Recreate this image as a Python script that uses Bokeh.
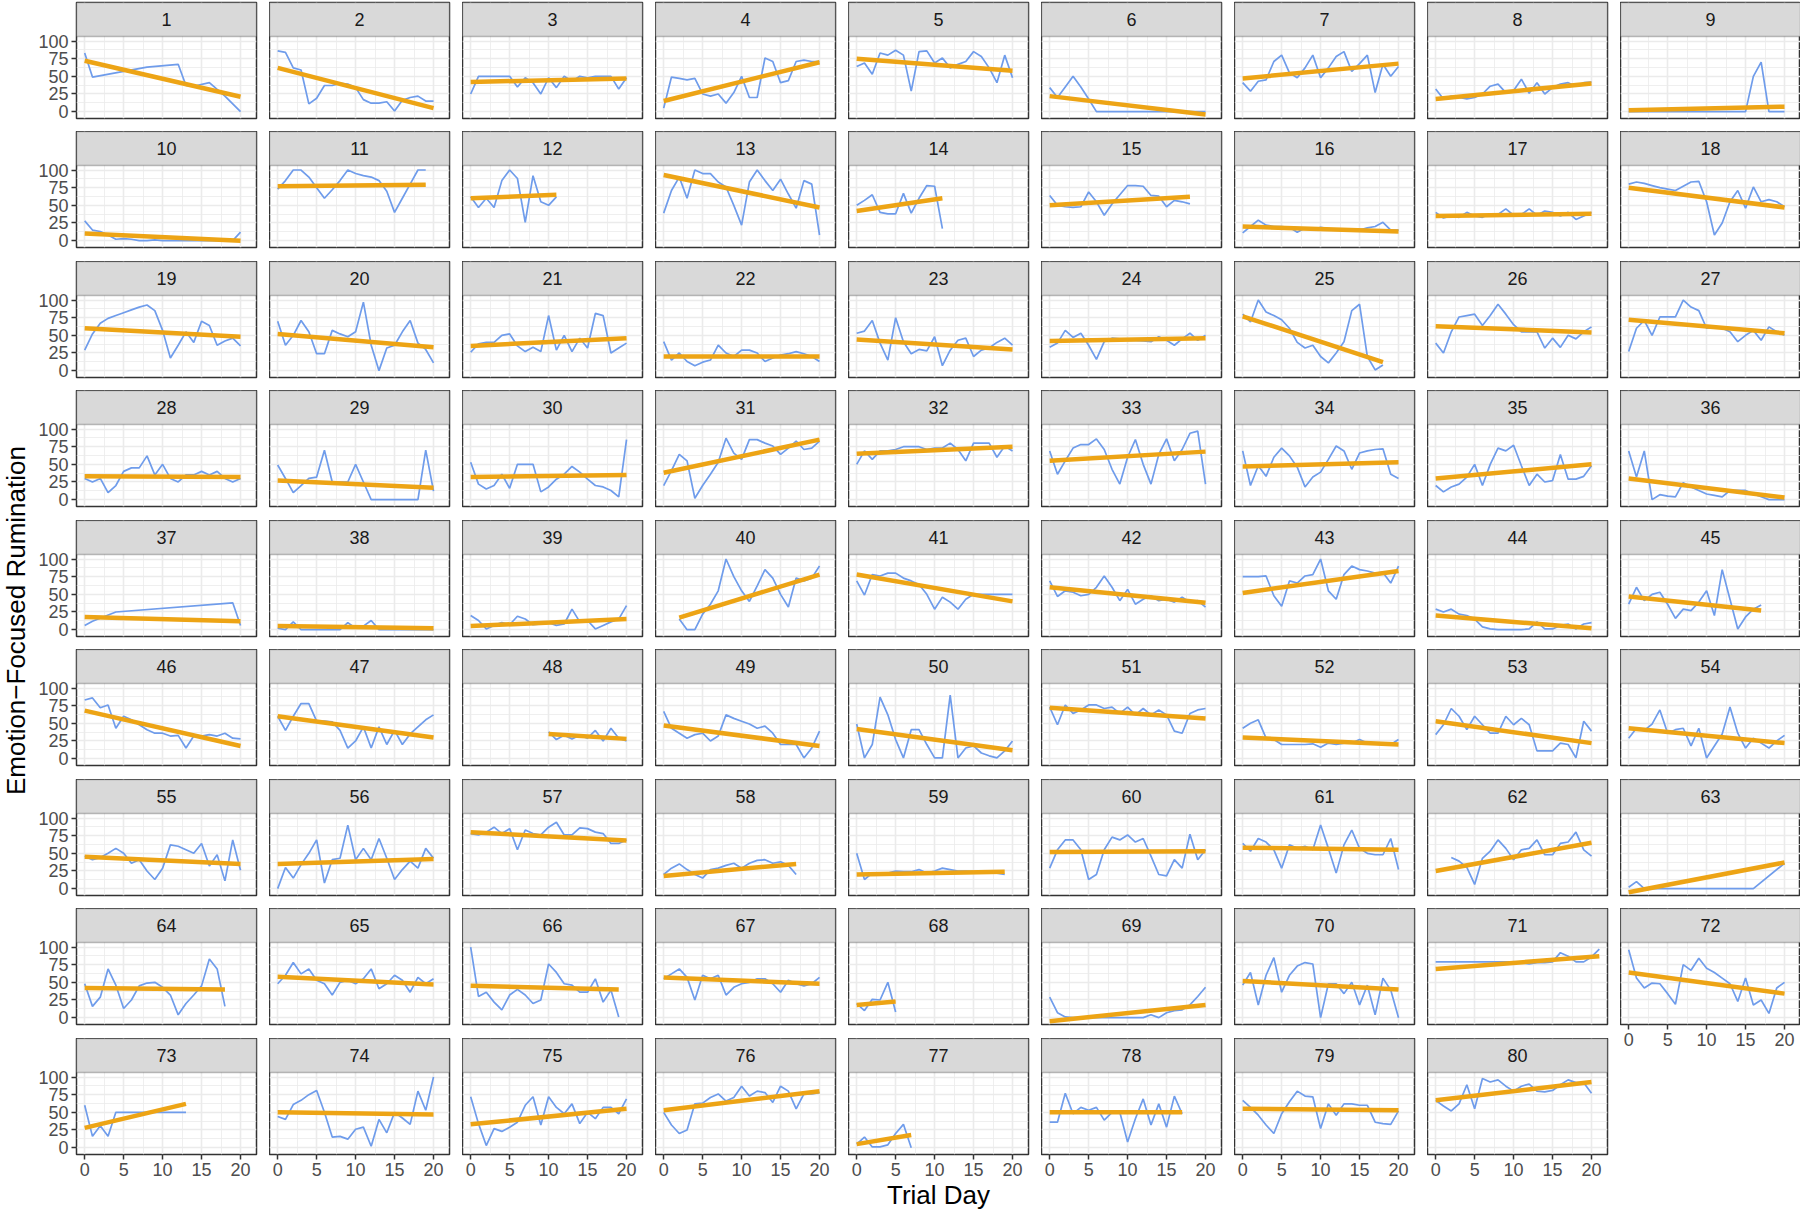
import math
from bokeh.plotting import figure
from bokeh.models import Range1d, FixedTicker, BoxAnnotation, Label, GridBox
from bokeh.embed import file_html
from bokeh.resources import INLINE

N = None
# ---- daily Emotion-Focused Rumination scores, one list per participant (index = trial day) ----
s1 = [83, 49, N, N, N, 57, N, N, 63, N, N, N, 67, 37, 36, N, 41, N, 22, N, 0]
s2 = [86, 84, 62, 59, 11, 19, 37, 37, 40, 39, 34, 17, 12, 12, 14, 1, 16, 20, 22, 15, 15]
s3 = [25, 50, 50, 50, 50, 50, 35, 48, 41, 25, 48, 34, 50, 43, 50, 48, 50, 50, 50, 32, 48]
s4 = [5, 49, 47, 45, 47, 25, 22, 25, 12, 27, 50, 20, 20, 76, 71, 41, 44, 71, 73, 71, 71]
s5 = [64, 69, 53, 83, 80, 87, 80, 29, 85, 86, 69, 76, 62, 67, 71, 85, 78, 62, 41, 80, 48]
s6 = [34, 20, 35, 50, 35, 18, 0, 0, 0, 0, 0, 0, 0, 0, 0, 0, 0, 0, 0, 0, 0]
s7 = [41, 29, 43, 45, 71, 80, 55, 48, 62, 80, 48, 62, 78, 85, 57, 68, 80, 27, 67, 50, 64]
s8 = [32, 18, 22, 20, 18, 20, 25, 36, 39, 27, 30, 46, 26, 41, 25, 34, 39, 41, 36, 41, 42]
s9 = [0, 0, 0, 0, 0, 0, 0, 0, 0, 0, 0, 0, 0, 0, 0, 0, 50, 70, 0, 0, 0]
s10 = [28, 15, 13, 8, 2, 3, 2, 0, 0, 1, 0, 0, 0, 0, 0, 0, 0, 0, 0, 0, 12]
s11 = [73, 85, 100, 100, 90, 75, 60, 72, 85, 100, 95, 92, 90, 85, 70, 40, 60, 80, 100, 100]
s12 = [62, 47, 60, 47, 85, 100, 88, 26, 92, 55, 50, 62]
s13 = [39, 71, 90, 60, 100, 95, 95, 83, 76, 50, 22, 83, 100, 85, 71, 87, 66, 46, 85, 80, 8]
s14 = [50, 57, 65, 40, 38, 38, 67, 39, 60, 78, 77, 17]
s15 = [64, 50, 48, 47, 48, 69, 55, 36, 52, 65, 78, 78, 77, 64, 63, 48, 57, 55, 52]
s16 = [11, 20, 29, 22, 20, 20, 19, 12, 18, 15, 19, 17, 16, 16, 15, 15, 18, 20, 26, 15, 15]
s17 = [40, 32, 35, 33, 40, 35, 33, 38, 37, 45, 36, 37, 45, 36, 42, 40, 35, 40, 30, 35, 40]
s18 = [80, 83, 81, 78, 75, 73, 71, 77, 83, 84, 55, 8, 25, 55, 71, 46, 76, 55, 58, 55, 48]
s19 = [29, 52, 67, 74, 78, 82, 86, 90, 93, 85, 57, 18, 36, 55, 40, 70, 64, 36, 42, 46, 35]
s20 = [70, 36, 50, 71, 55, 24, 24, 57, 52, 48, 55, 97, 36, 0, 32, 36, 55, 71, 39, 30, 11]
s21 = [26, 38, 40, 40, 50, 52, 35, 27, 33, 27, 78, 29, 50, 27, 46, 32, 81, 78, 25, 32, 39]
s22 = [41, 15, 25, 13, 7, 12, 15, 36, 25, 20, 29, 29, 25, 13, 18, 22, 24, 27, 24, 20, 13]
s23 = [53, 56, 71, 39, 15, 75, 41, 24, 30, 28, 48, 7, 29, 43, 46, 20, 29, 32, 40, 46, 36]
s24 = [33, 39, 57, 47, 53, 36, 16, 41, 46, 45, 43, 43, 42, 41, 48, 43, 36, 45, 53, 43, 50]
s25 = [80, 69, 100, 83, 78, 72, 60, 40, 32, 36, 20, 11, 25, 41, 85, 94, 20, 1, 8]
s26 = [39, 25, 55, 76, 78, 80, 64, 78, 94, 80, 65, 55, 55, 55, 32, 46, 33, 50, 45, 55, 62]
s27 = [27, 60, 71, 50, 76, 76, 76, 100, 90, 85, 60, 62, 60, 55, 41, 50, 57, 43, 62, 55, 50]
s28 = [30, 25, 30, 10, 20, 40, 45, 45, 62, 35, 50, 30, 25, 35, 35, 40, 35, 40, 30, 25, 30]
s29 = [49, 30, 10, 20, 30, 32, 70, 25, 25, 25, 50, 25, 0, 0, 0, 0, 0, 0, 0, 70, 12]
s30 = [53, 22, 15, 20, 36, 16, 50, 50, 50, 11, 18, 29, 36, 47, 39, 29, 20, 18, 13, 4, 85]
s31 = [20, 41, 64, 55, 2, 20, 36, 53, 87, 66, 57, 85, 85, 80, 76, 64, 73, 83, 71, 73, 83]
s32 = [50, 69, 57, 69, 69, 71, 75, 75, 75, 71, 73, 73, 80, 71, 55, 80, 80, 80, 60, 76, 69]
s33 = [69, 36, 55, 73, 78, 78, 86, 71, 43, 22, 60, 85, 50, 22, 64, 86, 55, 71, 94, 97, 22]
s34 = [69, 20, 48, 33, 60, 73, 62, 46, 18, 32, 39, 57, 76, 69, 43, 66, 69, 71, 72, 36, 30]
s35 = [20, 11, 18, 22, 32, 50, 20, 50, 73, 69, 77, 48, 20, 36, 25, 27, 64, 29, 29, 33, 48]
s36 = [69, 32, 69, 0, 7, 5, 4, 24, 18, 13, 8, 6, 4, 13, 13, 13, 8, 4, 0, 0, 0]
s37 = [6, 12, N, N, 25, N, N, N, N, N, N, N, N, N, N, N, N, N, N, 38, 6]
s38 = [2, 0, 11, 0, 0, 0, 0, 0, 0, 10, 2, 5, 13, 0, 0, 0, 0, 0, 0, 0, 0]
s39 = [20, 13, 1, 6, 10, 7, 19, 15, 7, 8, 10, 6, 8, 29, 11, 13, 1, 6, 11, 15, 34]
s40 = [N, N, 15, 0, 0, 22, 36, 55, 100, 75, 55, 40, 62, 85, 73, 50, 32, 73, 69, 73, 90]
s41 = [69, 49, 78, 76, 80, 80, 73, 69, 64, 50, 29, 46, 39, 29, 43, 50, 50, 50, 50, 50, 50]
s42 = [69, 47, 55, 53, 48, 50, 60, 76, 60, 41, 57, 36, 43, 48, 41, 43, 39, 46, 39, 41, 32]
s43 = [75, 75, 75, 76, 48, 33, 69, 66, 76, 78, 100, 55, 43, 78, 90, 85, 83, 80, 81, 66, 90]
s44 = [29, 25, 29, 22, 20, 15, 4, 1, 0, 0, 0, 0, 1, 11, 1, 1, 6, 8, 1, 8, 10]
s45 = [36, 60, 41, 50, 53, 36, 16, 29, 27, 39, 55, 20, 85, 43, 1, 18, 29, 35]
s46 = [83, 86, 72, 76, 43, 60, 55, 48, 41, 36, 36, 32, 33, 15, 32, 32, 34, 32, 36, 29, 28]
s47 = [60, 40, 60, 78, 78, 53, 53, 52, 40, 15, 25, 45, 15, 45, 20, 40, 20, 35, 45, 55, 62]
s48 = [N, N, N, N, N, N, N, N, N, N, 38, 27, 33, 28, 33, 29, 40, 25, 43, 29, 25]
s49 = [67, 43, 36, 29, 34, 36, 25, 32, 62, 57, 53, 49, 43, 46, 36, 20, 20, 20, 1, 15, 39]
s50 = [49, 1, 20, 87, 62, 27, 1, 41, 41, 20, 1, 1, 90, 1, 15, 18, 8, 4, 1, 11, 25]
s51 = [73, 48, 76, 64, 69, 76, 76, 71, 73, 64, 73, 62, 71, 62, 69, 62, 39, 36, 64, 69, 71]
s52 = [43, 50, 55, 29, 27, 20, 20, 20, 20, 21, 16, 22, 20, 22, 22, 27, 22, 22, 22, 20, 27]
s53 = [34, 48, 71, 60, 41, 60, 48, 36, 36, 60, 48, 57, 48, 11, 11, 11, 22, 20, 1, 53, 39]
s54 = [29, 43, 40, 49, 69, 36, 41, 43, 18, 43, 1, 18, 35, 73, 36, 15, 29, 22, 15, 25, 33]
s55 = [46, 41, 44, 50, 57, 50, 36, 41, 25, 13, 29, 62, 60, 55, 50, 64, 32, 48, 11, 69, 26]
s56 = [0, 30, 15, 34, 50, 69, 8, 41, 43, 90, 41, 57, 41, 71, 43, 13, 27, 39, 29, 57, 43]
s57 = [78, 76, 80, 87, 78, 85, 55, 83, 78, 76, 87, 94, 76, 76, 86, 85, 80, 78, 64, 64, 69]
s58 = [20, 29, 35, 27, 20, 15, 27, 29, 33, 36, 29, 36, 40, 41, 36, 38, 33, 20]
s59 = [50, 13, 22, 20, 22, 25, 24, 24, 27, 22, 25, 29, 27, 25, 25, 24, 23, 22, 22, 20]
s60 = [29, 55, 69, 69, 55, 13, 20, 55, 73, 69, 76, 66, 71, 46, 20, 18, 41, 29, 77, 41, 55]
s61 = [64, 53, 71, 66, 55, 29, 62, 57, 60, 55, 90, 57, 22, 62, 83, 57, 50, 48, 48, 71, 27]
s62 = [N, N, 44, 39, 30, 6, 43, 53, 69, 57, 41, 55, 57, 69, 48, 48, 64, 66, 80, 55, 46]
s63 = [2, 10, 0, 0, 0, 0, 0, 0, 0, 0, 0, 0, 0, 0, 0, 0, 0, N, N, N, 36]
s64 = [48, 16, 29, 69, 46, 13, 25, 45, 49, 50, 43, 32, 4, 20, 32, 45, 83, 69, 16]
s65 = [48, 60, 78, 62, 69, 53, 48, 32, 50, 53, 48, 55, 69, 41, 48, 60, 53, 36, 57, 48, 55]
s66 = [100, 30, 36, 22, 11, 32, 40, 32, 20, 25, 76, 64, 48, 46, 36, 36, 55, 22, 39, 1]
s67 = [55, 62, 69, 57, 25, 60, 55, 60, 32, 43, 48, 50, 55, 55, 48, 36, 53, 48, 45, 48, 57]
s68 = [20, 10, 26, 25, 50, 8]
s69 = [29, 7, 1, 0, 0, 0, 0, 0, 0, 0, 0, 0, 0, 4, 0, 7, 10, 11, 18, 30, 43]
s70 = [46, 64, 18, 60, 85, 36, 60, 73, 78, 76, 0, 48, 48, 34, 50, 18, 46, 4, 56, 39, 0]
s71 = [79, 79, 79, 79, 79, 79, 79, 79, 79, 79, 79, 78, 76, 78, 78, 79, 92, 87, 79, 79, 86, 97]
s72 = [96, 56, 42, 49, 48, 34, 19, 75, 67, 84, 70, 64, 56, 48, 23, 56, 18, 25, 6, 42, 50]
s73 = [60, 16, 31, 16, 50, 50, 50, 50, 50, 50, 50, 50, 50, 50]
s74 = [44, 40, 61, 67, 75, 81, 50, 15, 16, 12, 26, 29, 2, 40, 21, 50, 42, 33, 80, 53, 100]
s75 = [72, 34, 3, 27, 23, 29, 36, 60, 72, 32, 72, 57, 48, 62, 34, 50, 41, 57, 57, 48, 69]
s76 = [50, 32, 20, 25, 62, 63, 71, 76, 66, 71, 87, 73, 80, 78, 64, 87, 80, 55, 76, 76, 78]
s77 = [5, 15, 1, 1, 4, 20, 33, 0]
s78 = [36, 36, 77, 48, 57, 53, 57, 39, 50, 50, 8, 41, 69, 32, 62, 29, 73, 48]
s79 = [67, 57, 46, 32, 20, 48, 65, 80, 73, 72, 27, 62, 46, 62, 62, 60, 60, 36, 34, 33, 52]
s80 = [67, 59, 52, 62, 89, 55, 98, 93, 96, 87, 80, 87, 90, 80, 79, 81, 89, 96, 92, 92, 77]

# ---- linear trend per participant: value at first and last day, and those days ----
fit_value_start = [72, 62, 42, 15, 75, 22, 47, 18, 2,
                   10, 77, 60, 93, 42, 50, 20, 35, 75,
                   60, 52, 35, 20, 44, 42, 77, 63, 72,
                   33, 27, 32, 38, 65, 55, 47, 30, 30,
                   18, 5, 5, 17, 78, 60, 52, 20, 47,
                   68, 60, 35, 47, 42, 72, 30, 53, 43,
                   45, 35, 80, 18, 20, 52, 58, 25, -5,
                   42, 58, 45, 57, 18, -5, 52, 69, 64,
                   28, 50, 33, 53, 5, 50, 55, 67]
fit_value_end = [21, 5, 47, 70, 58, -4, 68, 40, 7,
                 0, 79, 65, 47, 60, 62, 13, 38, 47,
                 48, 33, 46, 20, 30, 46, 12, 54, 53,
                 32, 17, 35, 85, 75, 68, 53, 50, 3,
                 12, 2, 15, 78, 40, 38, 83, 2, 27,
                 18, 30, 28, 18, 12, 57, 20, 22, 22,
                 35, 42, 68, 35, 24, 53, 55, 65, 37,
                 40, 47, 40, 48, 23, 18, 40, 87, 34,
                 62, 47, 55, 80, 18, 50, 53, 93]
fit_day_start = [0, 0, 0, 0, 0, 0, 0, 0, 0,
                 0, 0, 0, 0, 0, 0, 0, 0, 0,
                 0, 0, 0, 0, 0, 0, 0, 0, 0,
                 0, 0, 0, 0, 0, 0, 0, 0, 0,
                 0, 0, 0, 2, 0, 0, 0, 0, 0,
                 0, 0, 10, 0, 0, 0, 0, 0, 0,
                 0, 0, 0, 0, 0, 0, 0, 0, 0,
                 0, 0, 0, 0, 0, 0, 0, 0, 0,
                 0, 0, 0, 0, 0, 0, 0, 0]
fit_day_end = [20, 20, 20, 20, 20, 20, 20, 20, 20,
               20, 19, 11, 20, 11, 18, 20, 20, 20,
               20, 20, 20, 20, 20, 20, 18, 20, 20,
               20, 20, 20, 20, 20, 20, 20, 20, 20,
               20, 20, 20, 20, 20, 20, 20, 20, 17,
               20, 20, 20, 20, 20, 20, 20, 20, 20,
               20, 20, 20, 17, 19, 20, 20, 20, 20,
               18, 20, 19, 20, 5, 20, 20, 21, 20,
               13, 20, 20, 20, 7, 17, 20, 20]

series = [s1, s2, s3, s4, s5, s6, s7, s8, s9, s10, s11, s12, s13, s14, s15, s16,
          s17, s18, s19, s20, s21, s22, s23, s24, s25, s26, s27, s28, s29, s30, s31,
          s32, s33, s34, s35, s36, s37, s38, s39, s40, s41, s42, s43, s44, s45, s46,
          s47, s48, s49, s50, s51, s52, s53, s54, s55, s56, s57, s58, s59, s60, s61,
          s62, s63, s64, s65, s66, s67, s68, s69, s70, s71, s72, s73, s74, s75, s76,
          s77, s78, s79, s80]

x_ticks = [0, 5, 10, 15, 20]
y_ticks = [0, 25, 50, 75, 100]
x_title = "Trial Day"
y_title = "Emotion\u2212Focused Rumination"

# ---- styling / layout ----
FONT = "Liberation Sans"
BLUE = "#6F9CEB"
ORANGE = "#EDA415"
NCOL = 9
X_LO, X_HI = -1.05, 22.05
Y_LO, Y_TOP = -9.7, 106.4
FRAME_W, PANEL_H, STRIP_H = 180, 82, 34
FRAME_H = PANEL_H + STRIP_H
Y_HI = Y_TOP + STRIP_H * (Y_TOP - Y_LO) / PANEL_H
GAP_X = 13
ROW_GAPS = [13, 14, 13, 14, 13, 14, 13, 14]
TOP_PAD = 2
TITLE_W = 30
LEFT_AX = 46
BOTTOM_AX = 60


def style_axis(ax, ticks):
    ax.ticker = FixedTicker(ticks=ticks)
    ax.axis_line_color = None
    ax.major_tick_line_color = "#333333"
    ax.major_tick_line_width = 1.5
    ax.major_tick_out = 5
    ax.major_tick_in = 0
    ax.minor_tick_line_color = None
    ax.major_label_text_font = FONT
    ax.major_label_text_font_size = "18px"
    ax.major_label_text_color = "#4D4D4D"
    ax.major_label_standoff = 3


def make_panel(k, row, col, vals):
    has_y = col == 0
    has_x = row == 8 or k == 72
    if row == 8:
        mb = BOTTOM_AX
    elif k == 72:
        mb = 28
    else:
        mb = ROW_GAPS[row]
    p = figure(frame_width=FRAME_W, frame_height=FRAME_H,
               x_range=Range1d(X_LO, X_HI), y_range=Range1d(Y_LO, Y_HI),
               output_backend="svg", toolbar_location=None, tools="",
               x_axis_location="below" if has_x else None,
               y_axis_location="left" if has_y else None,
               min_border_left=LEFT_AX if has_y else 0,
               min_border_right=GAP_X if col < NCOL - 1 else 0,
               min_border_top=TOP_PAD if row == 0 else 0, min_border_bottom=mb,
               background_fill_color="white", border_fill_color="white",
               outline_line_color="#333333", outline_line_width=1.5)
    p.xgrid.ticker = FixedTicker(ticks=x_ticks, minor_ticks=[2.5, 7.5, 12.5, 17.5])
    p.ygrid.ticker = FixedTicker(ticks=y_ticks, minor_ticks=[12.5, 37.5, 62.5, 87.5])
    for g in (p.xgrid, p.ygrid):
        g.grid_line_color = "#EBEBEB"
        g.grid_line_width = 1.6
        g.minor_grid_line_color = "#EBEBEB"
        g.minor_grid_line_width = 0.8
    if has_x:
        style_axis(p.xaxis[0], x_ticks)
        if k == 77:
            p.xaxis[0].axis_label = x_title
            p.xaxis[0].axis_label_text_font = FONT
            p.xaxis[0].axis_label_text_font_size = "26px"
            p.xaxis[0].axis_label_text_font_style = "normal"
            p.xaxis[0].axis_label_text_color = "#000000"
            p.xaxis[0].axis_label_standoff = 1
    if has_y:
        style_axis(p.yaxis[0], y_ticks)

    days = [d for d, v in enumerate(vals) if v is not None]
    ys = [v for v in vals if v is not None]
    p.line(days, ys, line_color=BLUE, line_width=1.7)
    i = k - 1
    p.line([fit_day_start[i], fit_day_end[i]], [fit_value_start[i], fit_value_end[i]],
           line_color=ORANGE, line_width=4.5)

    p.add_layout(BoxAnnotation(left=X_LO, right=X_HI, bottom=Y_TOP, top=Y_HI,
                               fill_color="#D9D9D9", fill_alpha=1.0,
                               line_color="#333333", line_width=1.5))
    p.add_layout(Label(x=(X_LO + X_HI) / 2, y=(Y_TOP + Y_HI) / 2, text=str(k),
                       text_align="center", text_baseline="middle",
                       text_font=FONT, text_font_size="18px", text_color="#1A1A1A"))
    return p


children = []
# y-axis title as its own narrow column spanning all rows
title_h = 9 * FRAME_H + sum(ROW_GAPS)
ttl = figure(frame_width=TITLE_W, frame_height=title_h,
             x_range=Range1d(0, 1), y_range=Range1d(0, 1),
             output_backend="svg", toolbar_location=None, tools="",
             x_axis_location=None, y_axis_location=None, min_border=0,
             min_border_top=TOP_PAD,
             outline_line_color=None, background_fill_color="white",
             border_fill_color="white")
ttl.grid.visible = False
ttl.add_layout(Label(x=0.5, y=0.4635, text=y_title, angle=math.pi / 2,
                     text_align="center", text_baseline="middle",
                     text_font=FONT, text_font_size="26px", text_color="#000000"))
children.append((ttl, 0, 0, 9, 1))

for idx, vals in enumerate(series):
    k = idx + 1
    row, col = divmod(idx, NCOL)
    fig = make_panel(k, row, col, vals)
    if k == 72:
        children.append((fig, row, col + 1, 2, 1))
    else:
        children.append((fig, row, col + 1))

layout = GridBox(children=children, spacing=0)

with open("out.html", "w") as f:
    f.write(file_html(layout, INLINE, title="Emotion-Focused Rumination"))
